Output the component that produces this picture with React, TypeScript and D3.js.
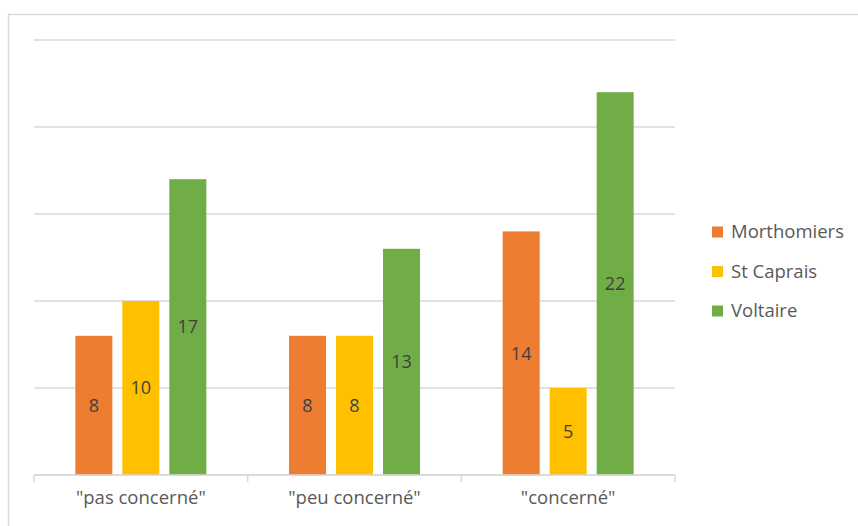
import React from "react";
import * as d3 from "d3";

const categories = ['"pas concerné"', '"peu concerné"', '"concerné"'];
const seriesNames = ["Morthomiers", "St Caprais", "Voltaire"];
const morthomiers = [8, 8, 14];
const stCaprais = [10, 8, 5];
const voltaire = [17, 13, 22];
const colors = ["#ED7D31", "#FFC000", "#70AD47"];
const yTicks = [0, 5, 10, 15, 20, 25];

const W = 858;
const H = 526;
const left = 34;
const right = 675;
const top = 40;
const bottom = 475;
const font = "'Open Sans', sans-serif";

export default function App() {
  const series = [morthomiers, stCaprais, voltaire];
  const x = d3.scaleBand<string>().domain(categories).range([left, right]).padding(0);
  const y = d3.scaleLinear().domain([0, 25]).range([bottom, top]);
  const bw = 37;
  const gap = 10;
  const groupW = bw * 3 + gap * 2;
  return (
    <svg width={W} height={H} style={{ position: "absolute", left: 0, top: 0 }} fontFamily={font}>
      <rect x={0} y={0} width={W} height={H} fill="#fff" />
      <rect x={8.5} y={14.5} width={W} height={H} fill="#fff" stroke="#d9d9d9" strokeWidth={1.5} />
      {yTicks.map((t) => (
        <line key={t} x1={left} x2={right} y1={y(t)} y2={y(t)} stroke="#d9d9d9" strokeWidth={1.5} />
      ))}
      {categories.map((c, ci) => {
        const cx = (x(c) as number) + x.bandwidth() / 2;
        const start = cx - groupW / 2;
        return series.map((s, si) => {
          const bx = start + si * (bw + gap);
          const v = s[ci];
          return (
            <g key={c + si}>
              <rect x={bx} y={y(v)} width={bw} height={y(0) - y(v)} fill={colors[si]} />
              <text x={bx + bw / 2} y={(y(v) + y(0)) / 2} dy="0.35em" textAnchor="middle" fontSize={18} fill="#404040">
                {v}
              </text>
            </g>
          );
        });
      })}
      <line x1={left} x2={right} y1={bottom} y2={bottom} stroke="#d9d9d9" strokeWidth={1.5} />
      {[...categories.map((c) => x(c) as number), right].map((tx, i) => (
        <line key={i} x1={tx} x2={tx} y1={bottom} y2={bottom + 7} stroke="#d9d9d9" strokeWidth={1.5} />
      ))}
      {categories.map((c) => (
        <text key={c} x={(x(c) as number) + x.bandwidth() / 2} y={498} dy="0.35em" textAnchor="middle" fontSize={18.5} fill="#595959">
          {c}
        </text>
      ))}
      {seriesNames.map((n, i) => (
        <g key={n} transform={`translate(712, ${232 + i * 39.5})`}>
          <rect x={0} y={-5.5} width={11} height={11} fill={colors[i]} />
          <text x={19} y={0} dy="0.35em" fontSize={18.5} fill="#595959">
            {n}
          </text>
        </g>
      ))}
    </svg>
  );
}
